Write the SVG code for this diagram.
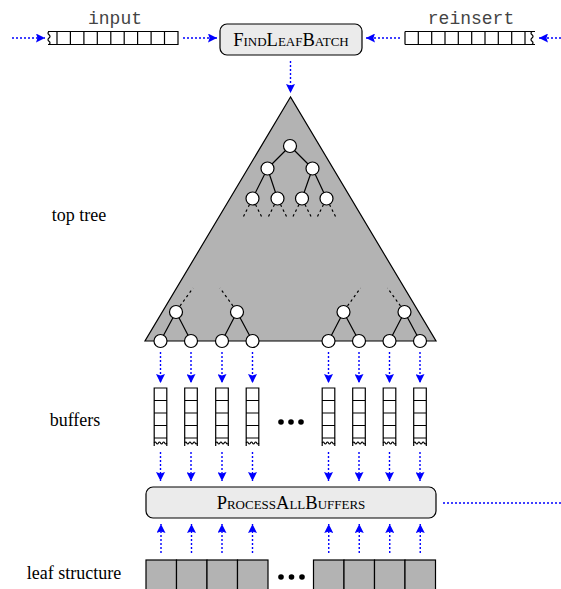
<svg xmlns="http://www.w3.org/2000/svg" width="561" height="589" viewBox="0 0 561 589">
<style>
.lbl{font-family:"Liberation Serif","Times New Roman",serif;font-size:18px;fill:#000;text-anchor:middle}
.mono{font-family:"Liberation Mono","Courier New",monospace;font-size:18px;fill:#444;text-anchor:middle}
.sc{font-family:"Liberation Serif","Times New Roman",serif;font-size:18.5px;font-variant:small-caps;fill:#000;text-anchor:middle}
.box{fill:#ebebeb;stroke:#000;stroke-width:1.2}
.ln{fill:none;stroke:#000;stroke-width:1.2}
.nd{fill:#fff;stroke:#000;stroke-width:1.2}
.stub{fill:none;stroke:#000;stroke-width:1.2;stroke-dasharray:2.5 3}
.arr{fill:none;stroke:#0000ff;stroke-width:1.4;stroke-dasharray:2 2;marker-end:url(#ah)}
.dot{fill:none;stroke:#0000ff;stroke-width:1.4;stroke-dasharray:2 2}
.leaf{fill:#b3b3b3;stroke:#000;stroke-width:1.2}
</style>
<defs>
<marker id="ah" markerUnits="userSpaceOnUse" markerWidth="9" markerHeight="9" viewBox="0 0 7 7" refX="7" refY="3.5" orient="auto">
<path d="M0,0 L7,3.5 L0,7 L1.2,3.5 Z" fill="#0000ff"/>
</marker>
<g id="buf">
<path class="ln" d="M-6.3,446 V388 H6.3 V446 M-6.3,400.5 H6.3 M-6.3,413 H6.3 M-6.3,425.5 H6.3 M-6.3,438 H6.3"/>
<path class="ln" d="M-6.3,443 q1.05,-2 2.1,0 t2.1,0 t2.1,0 t2.1,0 t2.1,0 t2.1,0"/>
</g>
</defs>

<!-- labels -->
<text class="lbl" x="79" y="221">top tree</text>
<text class="lbl" x="75" y="426">buffers</text>
<text class="lbl" x="74" y="579">leaf structure</text>

<!-- input queue -->
<g id="input">
<text class="mono" x="115" y="24">input</text>
<path class="ln" d="M48,31.5 H178 V44.5 H48 M57,31.5 V44.5 M70.4,31.5 V44.5 M83.9,31.5 V44.5 M97.3,31.5 V44.5 M110.8,31.5 V44.5 M124.2,31.5 V44.5 M137.6,31.5 V44.5 M151.1,31.5 V44.5 M164.5,31.5 V44.5"/>
<path class="ln" d="M49,31.5 q-2,1.625 0,3.25 t0,3.25 t0,3.25 t0,3.25"/>
</g>

<!-- reinsert queue -->
<g id="reinsert">
<text class="mono" x="471" y="24">reinsert</text>
<path class="ln" d="M405,31.5 H535 M405,44.5 H535 M405,31.5 V44.5 M418.3,31.5 V44.5 M431.7,31.5 V44.5 M445,31.5 V44.5 M458.3,31.5 V44.5 M471.7,31.5 V44.5 M485,31.5 V44.5 M498.3,31.5 V44.5 M511.7,31.5 V44.5 M525,31.5 V44.5"/>
<path class="ln" d="M532,31.5 q-2,1.625 0,3.25 t0,3.25 t0,3.25 t0,3.25"/>
</g>

<!-- FindLeafBatch -->
<g id="findleafbatch">
<rect class="box" x="220" y="24" width="142" height="31" rx="7"/>
<text class="sc" x="291" y="46">FindLeafBatch</text>
</g>

<!-- top tree -->
<g id="toptree">
<polygon points="290.5,97 145,341 436,341" fill="#b3b3b3" stroke="#000" stroke-width="1.2"/>
<path class="ln" d="M290,146 L267.5,168.5 M290,146 L312.5,168.5 M267.5,168.5 L252.5,198.5 M267.5,168.5 L277.5,198.5 M312.5,168.5 L302,198.5 M312.5,168.5 L326.5,198.5"/>
<path class="stub" d="M249.5,204.5 L243.5,216.5 M255.5,204.5 L261.5,216.5 M274.5,204.5 L268.5,216.5 M280.5,204.5 L286.5,216.5 M299,204.5 L293,216.5 M305,204.5 L311,216.5 M323.5,204.5 L317.5,216.5 M329.5,204.5 L335.5,216.5"/>
<circle class="nd" cx="290" cy="146" r="6.5"/>
<circle class="nd" cx="267.5" cy="168.5" r="6.5"/>
<circle class="nd" cx="312.5" cy="168.5" r="6.5"/>
<circle class="nd" cx="252.5" cy="198.5" r="6.5"/>
<circle class="nd" cx="277.5" cy="198.5" r="6.5"/>
<circle class="nd" cx="302" cy="198.5" r="6.5"/>
<circle class="nd" cx="326.5" cy="198.5" r="6.5"/>
<path class="ln" d="M176,312 L160.5,341 M176,312 L191,341 M237,312 L222,341 M237,312 L252.5,341 M343.5,312 L328.5,341 M343.5,312 L359,341 M404.5,312 L389.5,341 M404.5,312 L420,341"/>
<path class="stub" d="M180,306 L193,288 M233,306 L220,288 M347.5,306 L360.5,288 M400.5,306 L387.5,288"/>
<circle class="nd" cx="176" cy="312" r="6.5"/>
<circle class="nd" cx="237" cy="312" r="6.5"/>
<circle class="nd" cx="343.5" cy="312" r="6.5"/>
<circle class="nd" cx="404.5" cy="312" r="6.5"/>
<circle class="nd" cx="160.5" cy="341" r="6.5"/>
<circle class="nd" cx="191" cy="341" r="6.5"/>
<circle class="nd" cx="222" cy="341" r="6.5"/>
<circle class="nd" cx="252.5" cy="341" r="6.5"/>
<circle class="nd" cx="328.5" cy="341" r="6.5"/>
<circle class="nd" cx="359" cy="341" r="6.5"/>
<circle class="nd" cx="389.5" cy="341" r="6.5"/>
<circle class="nd" cx="420" cy="341" r="6.5"/>
</g>

<!-- buffers -->
<g id="buffers">
<use href="#buf" x="160.5"/>
<use href="#buf" x="191"/>
<use href="#buf" x="222"/>
<use href="#buf" x="252.5"/>
<use href="#buf" x="328.5"/>
<use href="#buf" x="359"/>
<use href="#buf" x="389.5"/>
<use href="#buf" x="420"/>
<circle cx="281" cy="422" r="2.8"/>
<circle cx="291" cy="422" r="2.8"/>
<circle cx="301" cy="422" r="2.8"/>
</g>

<!-- ProcessAllBuffers -->
<g id="processallbuffers">
<rect class="box" x="146" y="487" width="290" height="31" rx="7"/>
<text class="sc" x="291" y="509">ProcessAllBuffers</text>
</g>

<!-- leaf structure -->
<g id="leafstructure">
<rect class="leaf" x="146" y="560" width="30.5" height="40"/>
<rect class="leaf" x="176.5" y="560" width="30.5" height="40"/>
<rect class="leaf" x="207" y="560" width="30.5" height="40"/>
<rect class="leaf" x="237.5" y="560" width="30.5" height="40"/>
<rect class="leaf" x="313.5" y="560" width="30.5" height="40"/>
<rect class="leaf" x="344" y="560" width="30.5" height="40"/>
<rect class="leaf" x="374.5" y="560" width="30.5" height="40"/>
<rect class="leaf" x="405" y="560" width="30.5" height="40"/>
<circle cx="281" cy="577" r="2.8"/>
<circle cx="291.5" cy="577" r="2.8"/>
<circle cx="302" cy="577" r="2.8"/>
</g>

<!-- connectors -->
<g id="connectors">
<path class="arr" d="M12,38 H45"/>
<path class="arr" d="M183,38 H217"/>
<path class="arr" d="M400,38 H366"/>
<path class="arr" d="M561,38 H539"/>
<path class="arr" d="M290.5,61 V93"/>
<path class="arr" d="M160.5,352 V383"/>
<path class="arr" d="M191,352 V383"/>
<path class="arr" d="M222,352 V383"/>
<path class="arr" d="M252.5,352 V383"/>
<path class="arr" d="M328.5,352 V383"/>
<path class="arr" d="M359,352 V383"/>
<path class="arr" d="M389.5,352 V383"/>
<path class="arr" d="M420,352 V383"/>
<path class="arr" d="M160.5,452 V481"/>
<path class="arr" d="M191,452 V481"/>
<path class="arr" d="M222,452 V481"/>
<path class="arr" d="M252.5,452 V481"/>
<path class="arr" d="M328.5,452 V481"/>
<path class="arr" d="M359,452 V481"/>
<path class="arr" d="M389.5,452 V481"/>
<path class="arr" d="M420,452 V481"/>
<path class="arr" d="M161,553 V524"/>
<path class="arr" d="M191.5,553 V524"/>
<path class="arr" d="M222,553 V524"/>
<path class="arr" d="M252.5,553 V524"/>
<path class="arr" d="M328.75,553 V524"/>
<path class="arr" d="M359.25,553 V524"/>
<path class="arr" d="M389.75,553 V524"/>
<path class="arr" d="M420.25,553 V524"/>
<path class="dot" d="M443,503 H561"/>
</g>
</svg>
